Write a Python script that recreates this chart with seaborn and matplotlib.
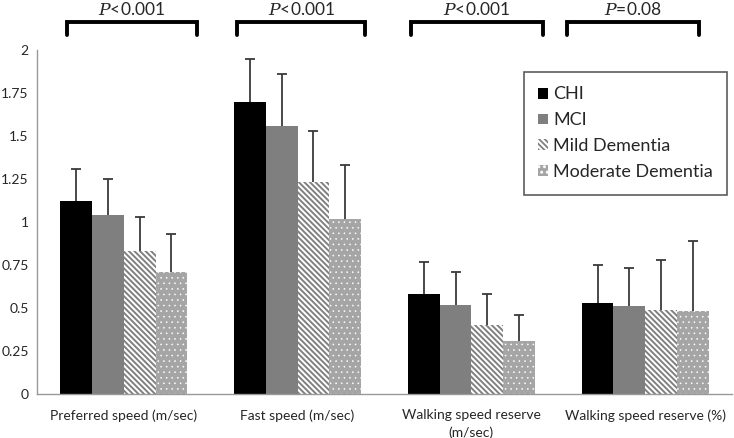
import numpy as np
import pandas as pd
import seaborn as sns
import matplotlib.pyplot as plt

measures = ["Preferred speed (m/sec)", "Fast speed (m/sec)",
            "Walking speed reserve\n(m/sec)", "Walking speed reserve (%)"]
groups = ["CHI", "MCI", "Mild Dementia", "Moderate Dementia"]
means = {
    "CHI": [1.12, 1.70, 0.58, 0.53],
    "MCI": [1.04, 1.56, 0.52, 0.51],
    "Mild Dementia": [0.83, 1.23, 0.40, 0.49],
    "Moderate Dementia": [0.71, 1.02, 0.31, 0.48],
}
sds = {
    "CHI": [0.19, 0.25, 0.19, 0.22],
    "MCI": [0.21, 0.30, 0.19, 0.22],
    "Mild Dementia": [0.20, 0.30, 0.18, 0.29],
    "Moderate Dementia": [0.22, 0.31, 0.15, 0.41],
}
pvals = ["<0.001", "<0.001", "<0.001", "=0.08"]

rows = []
for g in groups:
    for m, v in zip(measures, means[g]):
        rows.append({"measure": m, "group": g, "value": v})
df = pd.DataFrame(rows)

sns.set_style("white")
plt.rcParams['font.family'] = ['Lato', 'DejaVu Sans']
plt.rcParams['mathtext.fontset'] = 'dejavuserif'
plt.rcParams['hatch.linewidth'] = 1.3

fig = plt.figure(figsize=(7.34, 4.38), dpi=100)
ax = fig.add_axes([37/734, 44/438, 695/734, 344/438])

sns.barplot(data=df, x="measure", y="value", hue="group", order=measures,
            hue_order=groups, errorbar=None, width=0.73, ax=ax,
            palette=["black", "#7f7f7f", "white", "#a5a5a5"], saturation=1,
            legend=False)

styles = {
    "CHI": dict(hatch=None, ec="black", hlw=1.3),
    "MCI": dict(hatch=None, ec="#7f7f7f", hlw=1.3),
    "Mild Dementia": dict(hatch="\\\\\\\\\\\\", ec="#808080", hlw=1.4),
    "Moderate Dementia": dict(hatch="...", ec="white", hlw=0.4),
}
bar_conts = list(ax.containers)
for cont, g in zip(bar_conts, groups):
    xs, ys = [], []
    for bar in cont.patches:
        bar.set_linewidth(0)
        bar.set_edgecolor(styles[g]["ec"])
        if styles[g]["hatch"]:
            bar.set_hatch(styles[g]["hatch"])
            if hasattr(bar, "set_hatch_linewidth"):
                bar.set_hatch_linewidth(styles[g]["hlw"])
            else:
                bar._hatch_linewidth = styles[g]["hlw"]
        xs.append(bar.get_x() + bar.get_width() / 2)
        ys.append(bar.get_height())
    eb = ax.errorbar(xs, ys, yerr=[np.zeros(len(xs)), sds[g]], fmt="none",
                     ecolor="#3a3a3a", elinewidth=1.3, capsize=3.5, capthick=1.3)
    eb[1][0].set_visible(False)  # no cap at the bar top

ax.set_ylim(0, 2)
ax.set_xlim(-0.5, 3.5)
ax.set_yticks(np.arange(0, 2.01, 0.25))
ax.set_yticklabels(["0", "0.25", "0.5", "0.75", "1", "1.25", "1.5", "1.75", "2"])
ax.set_xticks([0, 1, 2, 3])
ax.set_xticks([0.5, 1.5, 2.5], minor=True)
ax.tick_params(axis="x", which="major", length=0, labelsize=10, pad=11)
ax.tick_params(axis="x", which="minor", length=5, color="#999999", direction="out")
ax.tick_params(axis="y", length=4, color="#999999", direction="out", labelsize=10, pad=2)
for lab in ax.get_xticklabels():
    lab.set_linespacing(1.5)
ax.set_xlabel("")
ax.set_ylabel("")
for s in ["top", "right"]:
    ax.spines[s].set_visible(False)
for s in ["left", "bottom"]:
    ax.spines[s].set_color("#999999")
    ax.spines[s].set_linewidth(1)

# significance brackets
spans = [(-0.33, 0.42), (-0.35, 0.39), (-0.35, 0.41), (-0.45, 0.31)]
for i, ((a, b), p) in enumerate(zip(spans, pvals)):
    x0, x1 = i + a, i + b
    ax.plot([x0, x0, x1, x1], [2.085, 2.163, 2.163, 2.085], color="black",
            lw=2.8, clip_on=False, solid_joinstyle="miter")
    ax.text((x0 + x1) / 2, 2.235, "$P$" + p, ha="center", va="center",
            fontsize=12.5, clip_on=False)

handles = [cont.patches[0] for cont in bar_conts]
leg = ax.legend(handles, groups, loc="upper right", bbox_to_anchor=(0.993, 0.936),
                fontsize=13, frameon=True, fancybox=False, edgecolor="#333333",
                handlelength=0.55, handleheight=0.55, handletextpad=0.25,
                labelspacing=0.55, borderpad=0.8, borderaxespad=0)
leg.get_frame().set_linewidth(1.2)

fig.savefig("out.png", dpi=100)
